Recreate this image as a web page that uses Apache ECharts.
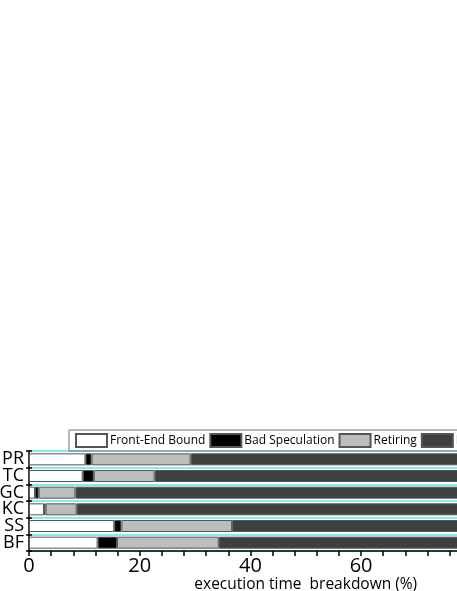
<!DOCTYPE html>
<html lang="en">
<head>
    <meta charset="UTF-8">
    <title>execution time breakdown</title>
    <script src="https://cdn.jsdelivr.net/npm/echarts@6/dist/echarts.min.js"></script>
    <style>
        html, body { margin: 0; padding: 0; background: #fff; }
        #chart { width: 457px; height: 591px; }
    </style>
</head>
<body>
<div id="chart"></div>
<script>
    // workloads, top to bottom
    const workloads = ['PR', 'TC', 'GC', 'KC', 'SS', 'BF'];
    // percent of execution time
    const frontEnd = [10.2, 9.7, 1.1, 2.7, 15.4, 12.4];
    const badSpec = [1.1, 2.0, 0.65, 0.3, 1.3, 3.5];
    const retiring = [17.9, 11.0, 6.65, 5.6, 20.0, 18.4];
    const backEnd = [70.8, 77.3, 91.6, 91.4, 63.3, 65.7];
    const xTicks = [0, 20, 40, 60, 80, 100];

    const font = '"Open Sans", "DejaVu Sans", sans-serif';

    const mkSeries = (name, data, color) => ({
        name: name,
        type: 'bar',
        stack: 'all',
        data: data,
        barWidth: 12,
        itemStyle: { color: color, borderColor: '#555', borderWidth: 1 }
    });

    const chart = echarts.init(document.getElementById('chart'));
    chart.setOption({
        animation: false,
        textStyle: { fontFamily: font },
        legend: {
            left: 69,
            top: 430,
            width: 600,
            icon: 'rect',
            itemWidth: 31,
            itemHeight: 13,
            itemGap: 4,
            padding: [3, 6, 3, 6],
            borderColor: '#777',
            borderWidth: 1,
            textStyle: { fontSize: 12, color: '#000', fontFamily: font, padding: [0, 0, 0, -2] },
            data: ['Front-End Bound', 'Bad Speculation', 'Retiring', 'Back-End Bound']
        },
        grid: { left: 29, top: 451, width: 553.5, height: 100, outerBoundsMode: 'none', containLabel: false },
        xAxis: {
            type: 'value',
            min: xTicks[0],
            max: xTicks[xTicks.length - 1],
            interval: 20,
            name: 'execution time  breakdown (%)',
            nameLocation: 'middle',
            nameGap: 24,
            nameTextStyle: { fontSize: 15.5, color: '#000' },
            axisLine: { show: true, lineStyle: { color: '#000', width: 1.5 } },
            axisTick: { show: true, length: 5, lineStyle: { color: '#000', width: 1.5 } },
            minorTick: { show: true, splitNumber: 5, length: 5, lineStyle: { color: '#000', width: 1.5 } },
            splitLine: { show: false },
            axisLabel: { fontSize: 20, color: '#000', margin: 5 }
        },
        yAxis: [{
            type: 'category',
            inverse: true,
            data: workloads,
            axisLine: { show: true, lineStyle: { color: '#000', width: 1.5 } },
            axisTick: { show: true, length: 3, lineStyle: { color: '#000', width: 1.5 } },
            splitLine: { show: true, lineStyle: { color: '#5fe3ea', width: 1.5 } },
            axisLabel: { fontSize: 18, color: '#000', margin: 5, interval: 0 }
        }, {
            type: 'category',
            inverse: true,
            position: 'left',
            data: workloads,
            axisLine: { show: false },
            axisTick: { show: true, inside: true, length: 3, lineStyle: { color: '#000', width: 1.5 } },
            splitLine: { show: false },
            axisLabel: { show: false }
        }],
        series: [
            mkSeries('Front-End Bound', frontEnd, '#ffffff'),
            mkSeries('Bad Speculation', badSpec, '#000000'),
            mkSeries('Retiring', retiring, '#bdbdbd'),
            mkSeries('Back-End Bound', backEnd, '#3f3f3f')
        ]
    });
</script>
</body>
</html>
